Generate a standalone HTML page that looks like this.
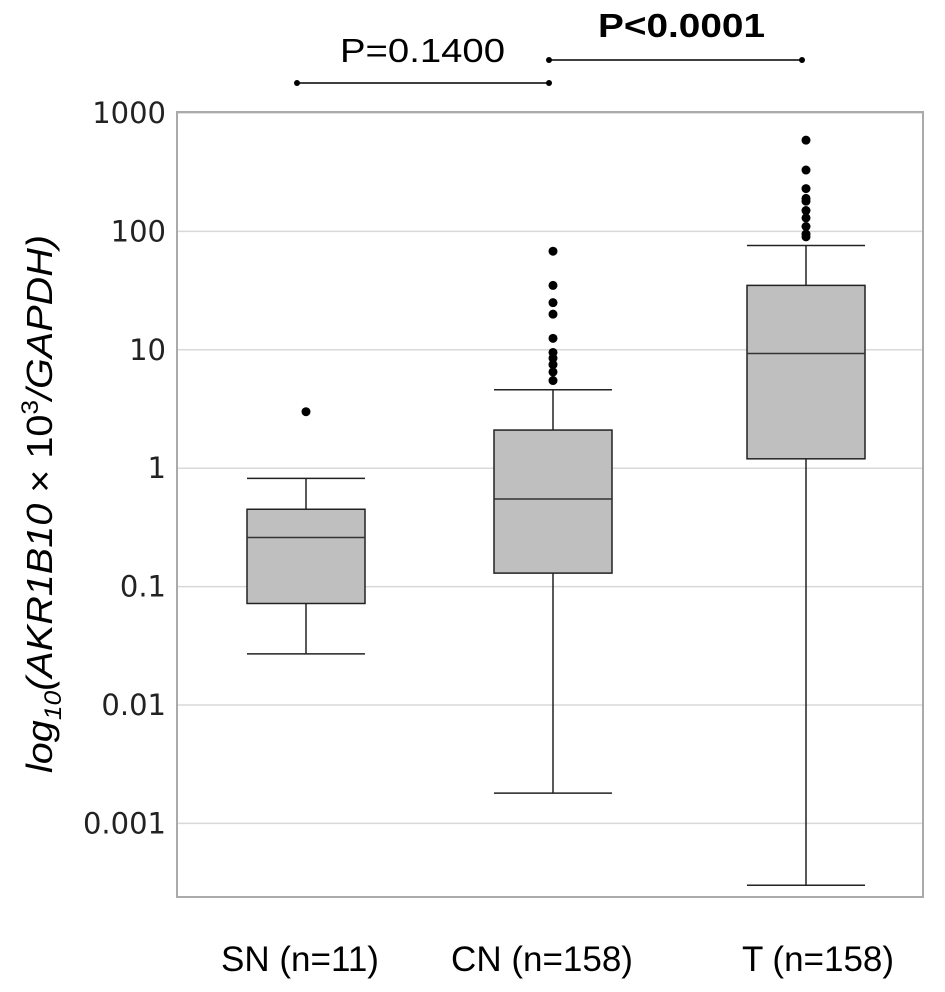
<!DOCTYPE html>
<html><head><meta charset="utf-8"><style>
html,body{margin:0;padding:0;background:#fff;}
svg{display:block;font-family:"Liberation Sans",sans-serif;}
</style></head><body>
<svg id="chart" width="945" height="992" viewBox="0 0 945 992">
<g id="grid"></g>
<rect x="177" y="112" width="746" height="785" fill="none" stroke="#aaa" stroke-width="2"/>
<g id="ticks"></g>
<g id="boxes"></g>
<text transform="translate(52,504) rotate(-90)" text-anchor="middle" font-size="36" font-style="italic" fill="#000" textLength="538" lengthAdjust="spacingAndGlyphs">log<tspan font-size="24" dy="9">10</tspan><tspan dy="-9">(AKR1B10 </tspan><tspan font-style="normal">× 10</tspan><tspan font-style="normal" font-size="24" dy="-14">3</tspan><tspan dy="14">/GAPDH)</tspan></text>
<g>
<text x="340" y="62" font-size="33" textLength="165" lengthAdjust="spacingAndGlyphs">P=0.1400</text>
<line x1="297" y1="83" x2="549" y2="83" stroke="#000" stroke-width="1.5"/>
<circle cx="297" cy="83" r="3"/><circle cx="549" cy="83" r="3"/>
</g>
<g>
<text x="598" y="37" font-size="33" font-weight="bold" textLength="167" lengthAdjust="spacingAndGlyphs">P&lt;0.0001</text>
<line x1="549" y1="60" x2="802" y2="60" stroke="#000" stroke-width="1.5"/>
<circle cx="549" cy="60" r="3"/><circle cx="802" cy="60" r="3"/>
</g>
</svg>
<script>
const categories=["SN (n=11)","CN (n=158)","T (n=158)"];
const whiskerLow=[0.027,0.0018,0.0003];
const q1=[0.072,0.13,1.2];
const median=[0.26,0.55,9.3];
const q3=[0.45,2.1,35];
const whiskerHigh=[0.82,4.6,76];
const outliers=[[3],[5.5,6.5,7.5,8.5,9.5,12.5,20,25,35,68],[90,95,110,130,150,180,190,230,330,590]];
const tickValues=[1000,100,10,1,0.1,0.01,0.001];
const tickLabels=["1000","100","10","1","0.1","0.01","0.001"];

const NS="http://www.w3.org/2000/svg";
function y(v){return 113+(3-Math.log10(v))*118.4;}
const xCenters=[306,553,806];
const labelX=[300,542,818];
function x(i){return xCenters[i];}
const boxW=118;
function mk(tag,attrs,parent){const e=document.createElementNS(NS,tag);for(const k in attrs)e.setAttribute(k,attrs[k]);parent.appendChild(e);return e;}
const grid=document.getElementById('grid'),ticks=document.getElementById('ticks'),boxes=document.getElementById('boxes');
tickValues.forEach((v,i)=>{
 const l=mk('line',{x1:177,x2:923,y1:y(v),y2:y(v),stroke:'#d9d9d9','stroke-width':1.5},grid);
 
 
 const t=mk('text',{x:166,y:y(v)+10,'text-anchor':'end','font-size':29,fill:'#222','font-family':'"DejaVu Sans",sans-serif'},ticks);
 t.textContent=tickLabels[i];
 
 
});
categories.forEach((c,i)=>{
 const g=mk('g',{},boxes);
 
 
 const cx=x(i),L=cx-boxW/2,R=cx+boxW/2;
 mk('line',{x1:cx,x2:cx,y1:y(whiskerLow[i]),y2:y(q1[i]),stroke:'#222','stroke-width':1.5},g);
 mk('line',{x1:cx,x2:cx,y1:y(q3[i]),y2:y(whiskerHigh[i]),stroke:'#222','stroke-width':1.5},g);
 mk('line',{x1:L,x2:R,y1:y(whiskerLow[i]),y2:y(whiskerLow[i]),stroke:'#222','stroke-width':1.5},g);
 mk('line',{x1:L,x2:R,y1:y(whiskerHigh[i]),y2:y(whiskerHigh[i]),stroke:'#222','stroke-width':1.5},g);
 mk('rect',{x:L,y:y(q3[i]),width:boxW,height:y(q1[i])-y(q3[i]),fill:'#bfbfbf',stroke:'#222','stroke-width':1.5},g);
 mk('line',{x1:L,x2:R,y1:y(median[i]),y2:y(median[i]),stroke:'#333','stroke-width':1.5},g);
 outliers[i].forEach(v=>{
  const p=mk('circle',{cx:cx,cy:y(v),r:4.5,fill:'#000'},g);
  
  
 });
 const t=mk('text',{x:labelX[i],y:971,'text-anchor':'middle','font-size':35,fill:'#000'},boxes);
 t.textContent=c;
 
 
});
</script>
</body></html>
